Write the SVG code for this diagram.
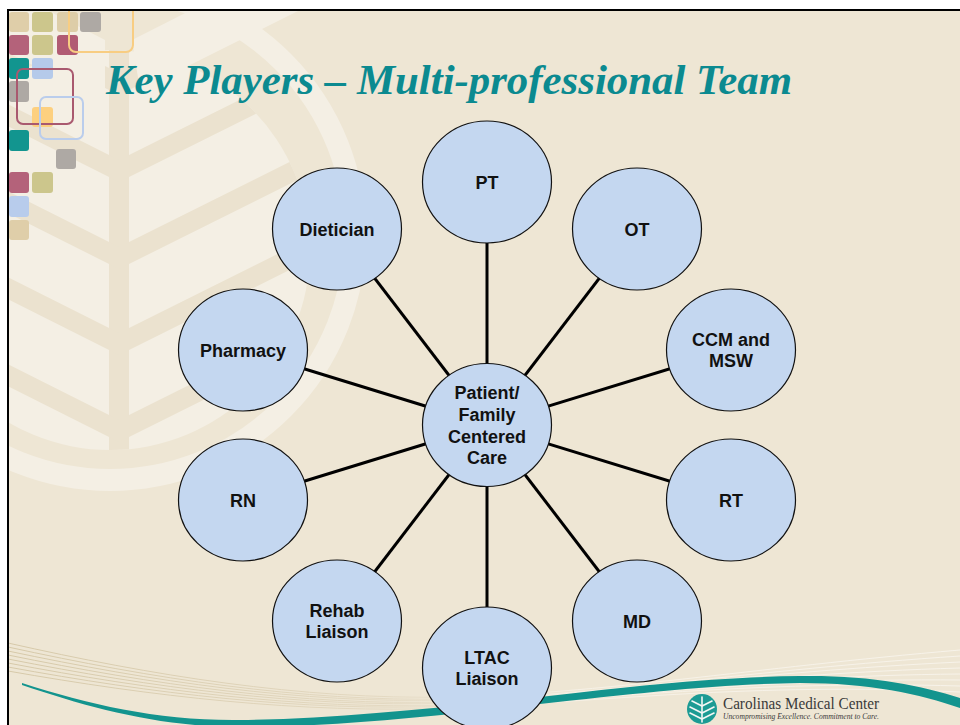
<svg xmlns="http://www.w3.org/2000/svg" width="960" height="725" viewBox="0 0 960 725">
  <defs>
    <style>
      .node ellipse { fill: #C4D7F0; stroke: #111; stroke-width: 1.2; }
      .node text { font-family: "Liberation Sans", Arial, sans-serif; font-weight: bold; font-size: 18px; fill: #111; text-anchor: middle; }
      .edges line { stroke: #000; stroke-width: 3; }
      .leaf { fill: #F4EFE4; }
      .groove { fill: #EBE2CF; }
      .tile { stroke: none; }
    </style>
    <linearGradient id="fan" gradientUnits="userSpaceOnUse" x1="0" y1="0" x2="960" y2="0">
      <stop offset="0" stop-color="#D3C5A3"/>
      <stop offset="0.4" stop-color="#E2D7BF"/>
      <stop offset="0.6" stop-color="#F7F2E8"/>
      <stop offset="1" stop-color="#F8F4EC"/>
    </linearGradient>
    <clipPath id="slide">
      <rect x="9" y="10" width="960" height="720"/>
    </clipPath>
    <clipPath id="leafClip">
      <circle cx="110" cy="250" r="200"/>
    </clipPath>
  </defs>

  <!-- page and slide background -->
  <rect width="960" height="725" fill="#FFFFFF"/>
  <rect x="9" y="10" width="960" height="720" fill="#EEE6D4"/>

  <g clip-path="url(#slide)">
    <!-- faint emblem watermark -->
    <circle cx="110" cy="235" r="245" fill="none" stroke="#F4EFE4" stroke-width="22"/>
    <g clip-path="url(#leafClip)">
      <rect class="leaf" x="-100" y="40" width="420" height="430"/>
      <rect class="groove" x="109" y="40" width="20" height="430"/>
      <g class="groove">
        <polygon points="119,73 380,-57 380,-35 119,95 -150,-40 -150,-62"/>
        <polygon points="119,160 380,30 380,52 119,182 -150,47 -150,25"/>
        <polygon points="119,247 380,117 380,139 119,269 -150,134 -150,112"/>
        <polygon points="119,333 380,203 380,225 119,355 -150,220 -150,198"/>
        <polygon points="119,420 380,290 380,312 119,442 -150,307 -150,285"/>
      </g>
    </g>
    <g class="leaf">
      <polygon points="132,40 300,-45 330,-5 140,90"/>
      <polygon points="105,40 -60,-45 -60,20 105,100"/>
    </g>

    <!-- swoosh lines along the bottom -->
    <g fill="none" stroke="url(#fan)" stroke-width="0.9">
      <path d="M8,643 C150,675 300,700 450,697 S750,668 960,650"/>
      <path d="M8,647 C150,678 300,702 450,699 S750,670 960,656"/>
      <path d="M8,651 C150,681 300,704 450,700 S750,672 960,662"/>
      <path d="M8,655 C150,684 300,706 450,702 S750,674 960,668"/>
      <path d="M8,659 C150,687 300,708 450,703 S750,676 960,674"/>
      <path d="M8,663 C150,690 300,710 450,705 S750,678 960,680"/>
      <path d="M8,667 C150,693 300,712 450,706 S750,680 960,686"/>
      <path d="M8,671 C150,696 300,714 450,708 S750,682 960,692"/>
    </g>
    <path fill="#13948E" d="M22,683 C90,705 160,721 240,720 C330,719 430,709 540,697 C640,685 720,677 800,676 C870,675 920,685 960,698 L960,708 C920,694 870,683 800,683 C720,684 640,693 540,704 C430,717 330,727 240,727 C160,727 90,708 22,685 Z"/>

    <!-- coloured tiles, top left -->
    <g class="tile">
      <rect x="9" y="12" width="20" height="20" rx="3" fill="#DFCEA9"/>
      <rect x="32" y="12" width="21" height="20" rx="3" fill="#CCC68C"/>
      <rect x="57" y="12" width="21" height="20" rx="3" fill="#DDCDA8"/>
      <rect x="80" y="12" width="21" height="20" rx="3" fill="#AEA9A4"/>
      <rect x="9" y="35" width="20" height="20" rx="3" fill="#B4627A"/>
      <rect x="32" y="35" width="21" height="20" rx="3" fill="#CCC68C"/>
      <rect x="57" y="35" width="21" height="20" rx="3" fill="#B15B73"/>
      <rect x="9" y="58" width="20" height="21" rx="3" fill="#12958F"/>
      <rect x="32" y="58" width="21" height="21" rx="3" fill="#B5CAEA"/>
      <rect x="9" y="81" width="20" height="21" rx="3" fill="#AEA9A4"/>
      <rect x="32" y="107" width="21" height="20" rx="3" fill="#FDD07F"/>
      <rect x="9" y="130" width="20" height="21" rx="3" fill="#12958F"/>
      <rect x="56" y="149" width="20" height="20" rx="3" fill="#AEA9A4"/>
      <rect x="9" y="172" width="20" height="21" rx="3" fill="#B4627A"/>
      <rect x="32" y="172" width="21" height="21" rx="3" fill="#CCC68C"/>
      <rect x="9" y="196" width="20" height="21" rx="3" fill="#B8CCEC"/>
      <rect x="9" y="220" width="20" height="20" rx="3" fill="#DFCEA9"/>
    </g>
    <g fill="none" stroke-width="2">
      <rect x="69" y="-10" width="64" height="62" rx="7" stroke="#F8CD82"/>
      <rect x="17" y="69" width="56" height="55" rx="6" stroke="#A9596F"/>
      <rect x="40" y="97" width="43" height="42" rx="6" stroke="#BACDEC"/>
    </g>

    <!-- footer logo -->
    <g id="logo">
      <circle cx="702" cy="709" r="15" fill="#1C9B94"/>
      <g fill="none" stroke="#F2F6F4" stroke-width="1.6" stroke-linecap="round">
        <line x1="702" y1="697" x2="702" y2="722"/>
        <polyline points="692,701 702,706 712,701"/>
        <polyline points="690,707 702,713 714,707"/>
        <polyline points="690,713 702,719 714,713"/>
      </g>
      <text x="723" y="709" font-family="'Liberation Serif', 'Times New Roman', serif" font-size="16.5" fill="#3A3A3A" textLength="156" lengthAdjust="spacingAndGlyphs">Carolinas Medical Center</text>
      <text x="723" y="719" font-family="'Liberation Serif', 'Times New Roman', serif" font-style="italic" font-size="7.2" fill="#3A3A3A" textLength="156" lengthAdjust="spacingAndGlyphs">Uncompromising Excellence. Commitment to Care.</text>
    </g>
  </g>

  <!-- slide frame -->
  <path d="M8,730 V10 H962" fill="none" stroke="#000" stroke-width="2"/>

  <!-- title -->
  <text id="title" x="106" y="94" font-family="'Liberation Serif', 'Times New Roman', serif" font-weight="bold" font-style="italic" font-size="42.6" fill="#0B8A90" textLength="686" lengthAdjust="spacingAndGlyphs">Key Players – Multi-professional Team</text>

  <!-- connectors from the hub to each role -->
  <g class="edges" id="connectors">
    <line x1="487" y1="425" x2="487" y2="182"/>
    <line x1="487" y1="425" x2="637" y2="229"/>
    <line x1="487" y1="425" x2="731" y2="350"/>
    <line x1="487" y1="425" x2="731" y2="500"/>
    <line x1="487" y1="425" x2="637" y2="621"/>
    <line x1="487" y1="425" x2="487" y2="668"/>
    <line x1="487" y1="425" x2="337" y2="621"/>
    <line x1="487" y1="425" x2="243" y2="500"/>
    <line x1="487" y1="425" x2="243" y2="350"/>
    <line x1="487" y1="425" x2="337" y2="229"/>
  </g>

  <!-- nodes -->
  <g class="node" id="hub">
    <ellipse cx="487" cy="425" rx="64.5" ry="61.5"/>
    <text x="487" y="399">Patient/</text>
    <text x="487" y="421">Family</text>
    <text x="487" y="442.5">Centered</text>
    <text x="487" y="464">Care</text>
  </g>
  <g class="node" id="pt">
    <ellipse cx="487" cy="182" rx="64.5" ry="61"/>
    <text x="487" y="189">PT</text>
  </g>
  <g class="node" id="ot">
    <ellipse cx="637" cy="229" rx="64.5" ry="61"/>
    <text x="637" y="236">OT</text>
  </g>
  <g class="node" id="ccm">
    <ellipse cx="731" cy="350" rx="64.5" ry="61"/>
    <text x="731" y="346">CCM and</text>
    <text x="731" y="367">MSW</text>
  </g>
  <g class="node" id="rt">
    <ellipse cx="731" cy="500" rx="64.5" ry="61"/>
    <text x="731" y="507">RT</text>
  </g>
  <g class="node" id="md">
    <ellipse cx="637" cy="621" rx="64.5" ry="61"/>
    <text x="637" y="628">MD</text>
  </g>
  <g class="node" id="ltac">
    <ellipse cx="487" cy="668" rx="64.5" ry="61"/>
    <text x="487" y="664">LTAC</text>
    <text x="487" y="685">Liaison</text>
  </g>
  <g class="node" id="rehab">
    <ellipse cx="337" cy="621" rx="64.5" ry="61"/>
    <text x="337" y="617">Rehab</text>
    <text x="337" y="638">Liaison</text>
  </g>
  <g class="node" id="rn">
    <ellipse cx="243" cy="500" rx="64.5" ry="61"/>
    <text x="243" y="507">RN</text>
  </g>
  <g class="node" id="pharmacy">
    <ellipse cx="243" cy="350" rx="64.5" ry="61"/>
    <text x="243" y="357">Pharmacy</text>
  </g>
  <g class="node" id="dietician">
    <ellipse cx="337" cy="229" rx="64.5" ry="61"/>
    <text x="337" y="236">Dietician</text>
  </g>
</svg>
